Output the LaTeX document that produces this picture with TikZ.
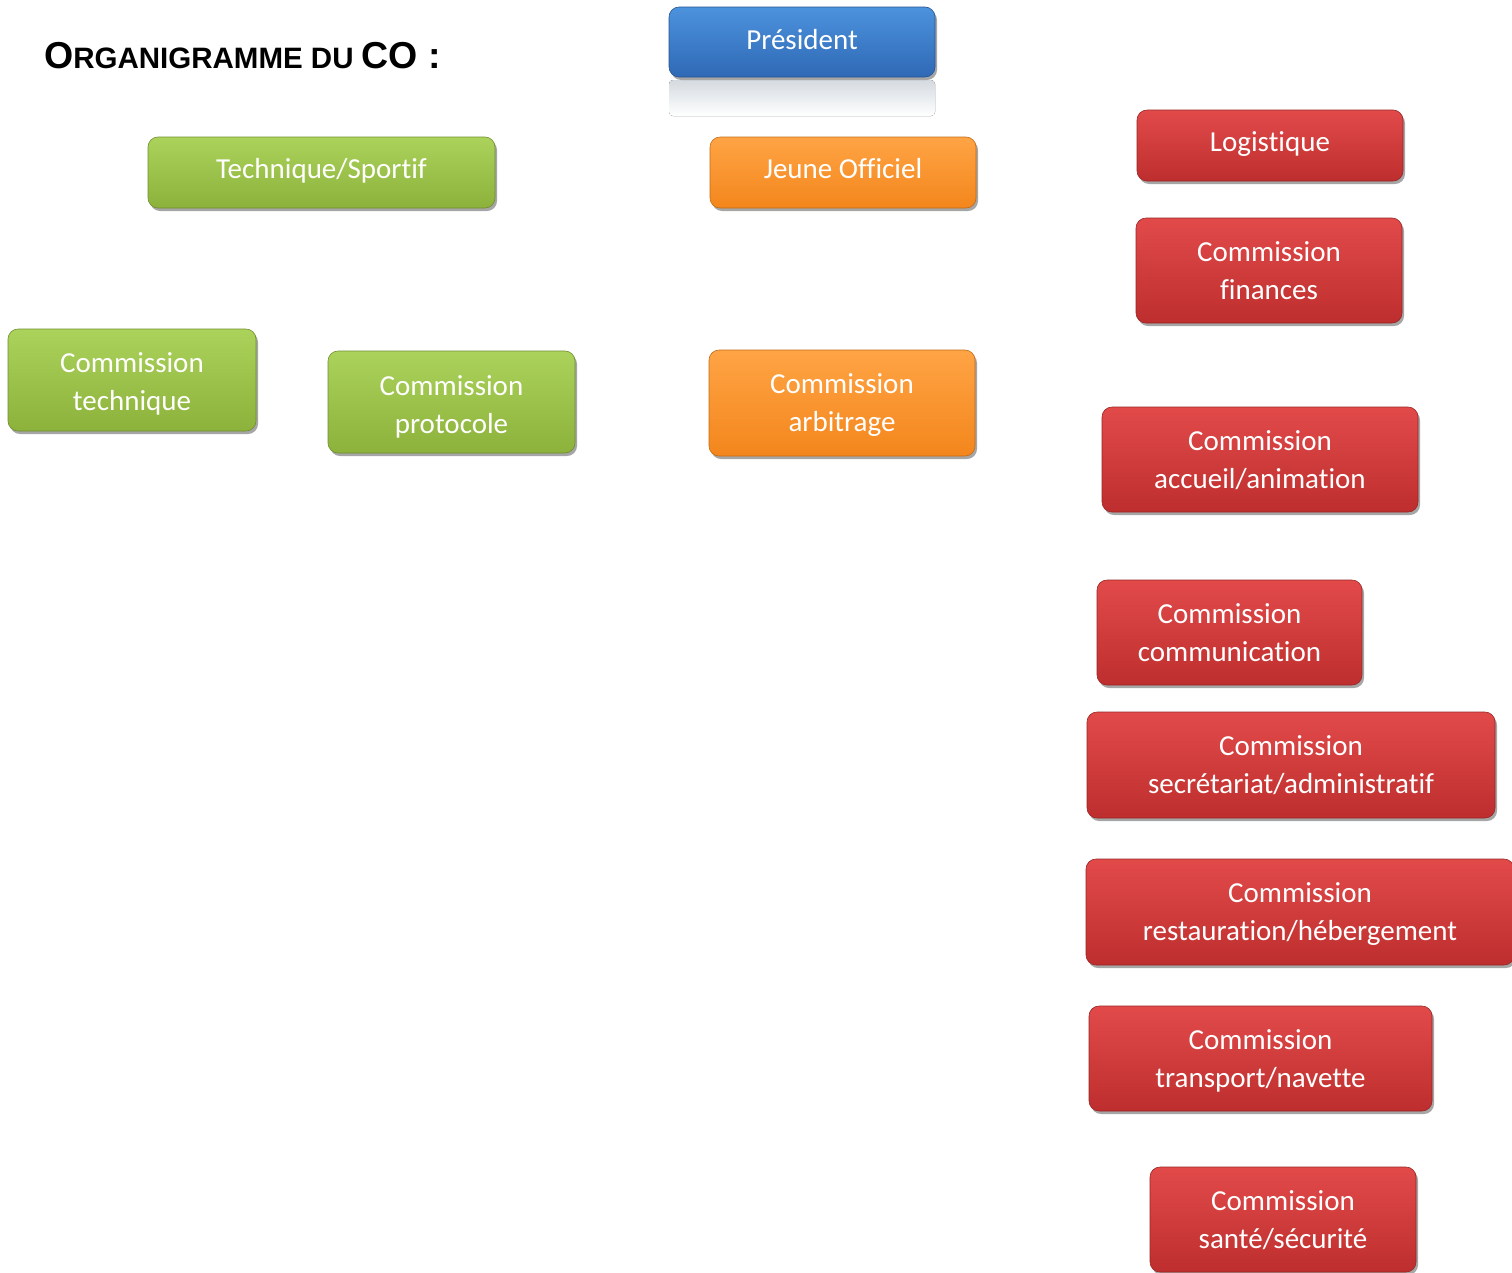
\documentclass[tikz,border=0pt]{standalone}
\usepackage{fontspec}
\setmainfont{Carlito}[Ligatures=NoCommon]
\newfontfamily\titlefont{Liberation Sans}
\usetikzlibrary{shadows}
\definecolor{bluetop}{HTML}{4C92DC}
\definecolor{bluebot}{HTML}{2F69B6}
\definecolor{greentop}{HTML}{ABD25A}
\definecolor{greenbot}{HTML}{8CB23C}
\definecolor{orangetop}{HTML}{FFA445}
\definecolor{orangebot}{HTML}{F3861C}
\definecolor{redtop}{HTML}{E24A4A}
\definecolor{redbot}{HTML}{BE2E2E}
\newcommand{\twolines}[3][-2pt]{\raisebox{#1}[\height][\depth]{\begin{tabular}{@{}c@{}}#2\\#3\end{tabular}}}
\newcommand{\oneline}[2][0pt]{\raisebox{#1}[\height][\depth]{#2}}
\tikzset{
  box/.style={rounded corners=10pt, align=center, text=white, inner sep=0pt,
    font=\fontsize{29}{38}\selectfont,
    drop shadow={shadow xshift=2pt, shadow yshift=-3pt, opacity=0.35, fill=black}},
  bluebox/.style={box, top color=bluetop, middle color=bluetop!85!bluebot, bottom color=bluebot, draw=bluebot!80!black, line width=0.6pt},
  greenbox/.style={box, top color=greentop, middle color=greentop!80!greenbot, bottom color=greenbot, draw=greenbot!80!black, line width=0.6pt},
  orangebox/.style={box, top color=orangetop, middle color=orangetop!80!orangebot, bottom color=orangebot, draw=orangebot!80!black, line width=0.6pt},
  redbox/.style={box, top color=redtop, middle color=redtop!80!redbot, bottom color=redbot, draw=redbot!80!black, line width=0.6pt},
}
\begin{document}
\begin{tikzpicture}[x=1pt,y=-1pt]
\useasboundingbox (0,0) rectangle (1512,1272);
\clip (0,0) rectangle (1512,1272);
% title
\node[anchor=base west, inner sep=0pt, font=\titlefont\bfseries] (title) at (44,68)
  {{\fontsize{37.5}{40}\selectfont O}{\fontsize{29.5}{40}\selectfont RGANIGRAMME DU }{\fontsize{37.5}{40}\selectfont CO :}};
% president reflection
\fill[top color=bluetop!25!gray!30, bottom color=white, rounded corners=4pt] (669,80) rectangle (935,116);
\node[bluebox, minimum width=266pt, minimum height=70pt] (pres) at (802,42) {Président\vphantom{j}};
% green
\node[greenbox, minimum width=347pt, minimum height=71pt] (tech) at (321.5,172.5) {\oneline[2pt]{Technique/Sportif}};
\node[greenbox, minimum width=248pt, minimum height=102pt] (ctech) at (132,380) {\twolines[-4pt]{Commission}{technique}};
\node[greenbox, minimum width=247pt, minimum height=102pt] (proto) at (451.5,402) {\twolines[-5pt]{Commission}{protocole}};
% orange
\node[orangebox, minimum width=266pt, minimum height=71pt] (jeune) at (843,172.5) {\oneline[4pt]{Jeune Officiel}};
\node[orangebox, minimum width=266pt, minimum height=106pt] (arb) at (842,403) {\twolines{Commission}{arbitrage}};
% red
\node[redbox, minimum width=266pt, minimum height=71pt] (logi) at (1270,145.5) {\oneline[1pt]{Logistique}};
\node[redbox, minimum width=266pt, minimum height=105pt] (fin) at (1269,270.5) {\twolines{Commission}{finances}};
\node[redbox, minimum width=316pt, minimum height=105pt] (acc) at (1260,459.5) {\twolines{Commission}{accueil/animation}};
\node[redbox, minimum width=265pt, minimum height=105pt] (comm) at (1229.5,632.5) {\twolines{Commission}{communication}};
\node[redbox, minimum width=408pt, minimum height=106pt] (secr) at (1291,765) {\twolines{Commission}{secrétariat/administratif}};
\node[redbox, minimum width=428pt, minimum height=106pt] (resto) at (1300,912) {\twolines{Commission}{restauration/hébergement}};
\node[redbox, minimum width=343pt, minimum height=105pt] (transp) at (1260.5,1058.5) {\twolines{Commission}{transport/navette}};
\node[redbox, minimum width=266pt, minimum height=105pt] (sante) at (1283,1219.5) {\twolines{Commission}{santé/sécurité}};
\end{tikzpicture}
\end{document}
